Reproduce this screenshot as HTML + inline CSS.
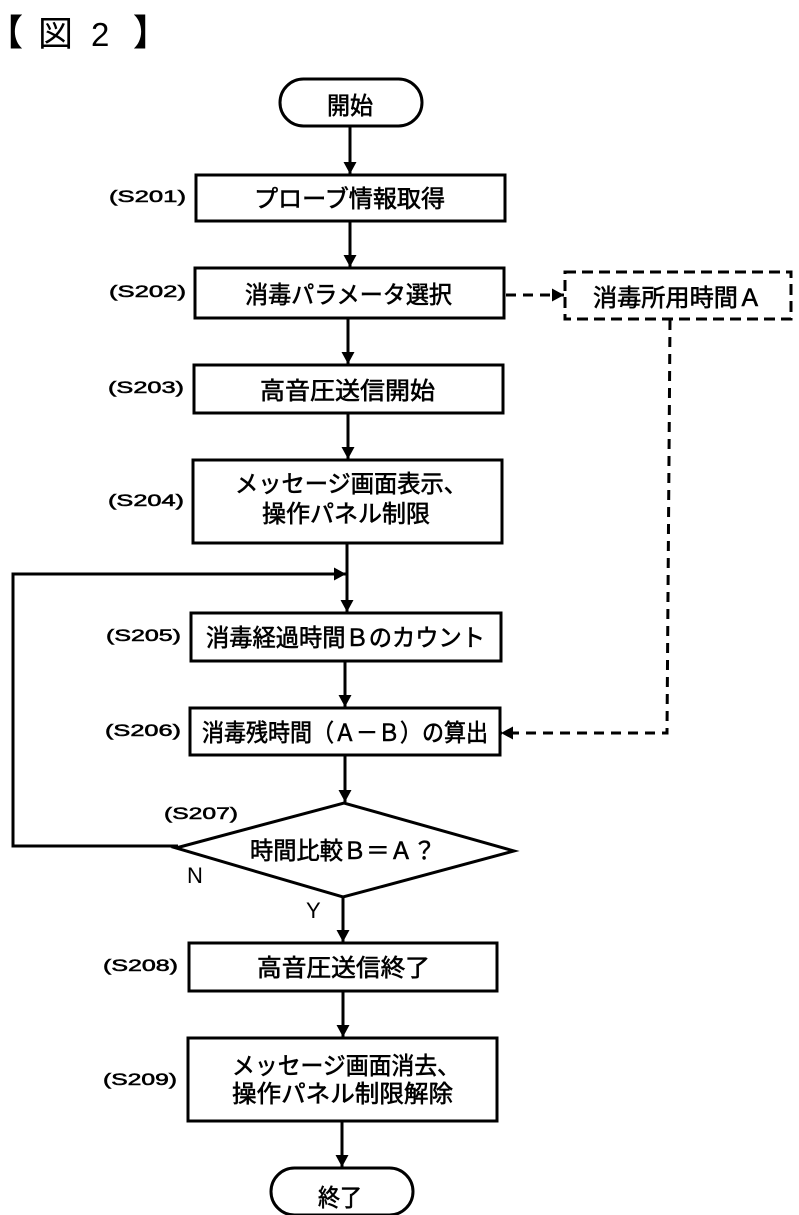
<!DOCTYPE html>
<html lang="ja"><head><meta charset="utf-8"><title>図2</title>
<style>
html,body{margin:0;padding:0;background:#fff}
svg{display:block}
text{font-family:"Liberation Sans","Noto Sans CJK JP",sans-serif;fill:#000}
.t{font-size:24px;stroke:#000;stroke-width:.6px}
.s{font-size:17px;stroke:#000;stroke-width:.55px}
</style></head><body>
<svg width="799" height="1215" viewBox="0 0 799 1215" xmlns="http://www.w3.org/2000/svg">
<defs>
<marker id="a" markerWidth="14" markerHeight="14" refX="12" refY="6.5" orient="auto" markerUnits="userSpaceOnUse"><path d="M0 0L12 6.5L0 13Z" fill="#000"/></marker>
</defs>
<text x="-13" y="45" style="font-size:36px;font-weight:700">【</text>
<text x="38" y="46" style="font-size:35px">図</text>
<text x="91" y="46" style="font-size:33px">2</text>
<text x="133" y="45" style="font-size:36px;font-weight:700">】</text>

<g fill="#fff" stroke="#000" stroke-width="3">
<rect x="280" y="79" width="142" height="47" rx="23.5"/>
<rect x="196" y="175" width="309" height="46"/>
<rect x="195" y="268" width="309" height="50"/>
<rect x="194" y="365" width="309" height="48"/>
<rect x="193" y="460" width="309" height="83"/>
<rect x="191" y="613" width="310" height="48"/>
<rect x="190" y="708" width="310" height="47"/>
<path d="M176 848L344 803L514 851L343 897Z"/>
<rect x="189" y="943" width="308" height="48"/>
<rect x="188" y="1038" width="309" height="83"/>
<rect x="271" y="1168" width="142" height="47" rx="23.5"/>
</g>
<rect x="565" y="272" width="226" height="47" fill="#fff" stroke="#000" stroke-width="3" stroke-dasharray="11 6"/>

<g fill="none" stroke="#000" stroke-width="3">
<path d="M350 126V174" marker-end="url(#a)"/>
<path d="M350 221V267" marker-end="url(#a)"/>
<path d="M348 318V364" marker-end="url(#a)"/>
<path d="M348 413V459" marker-end="url(#a)"/>
<path d="M347 543V612" marker-end="url(#a)"/>
<path d="M345 661V707" marker-end="url(#a)"/>
<path d="M345 755V802" marker-end="url(#a)"/>
<path d="M343 897V942" marker-end="url(#a)"/>
<path d="M343 991V1037" marker-end="url(#a)"/>
<path d="M342 1121V1167" marker-end="url(#a)"/>
<path d="M178 846H13V574H346" marker-end="url(#a)"/>
</g>
<g fill="none" stroke="#000" stroke-width="3" stroke-dasharray="10 7">
<path d="M506 295H564" marker-end="url(#a)"/>
<path d="M670 320L667 733H501" marker-end="url(#a)"/>
</g>

<g>
<text class="t" x="327" y="114" textLength="46" lengthAdjust="spacingAndGlyphs">開始</text>
<text class="t" x="254" y="207" textLength="191" lengthAdjust="spacingAndGlyphs">プローブ情報取得</text>
<text class="t" x="245" y="303" textLength="207" lengthAdjust="spacingAndGlyphs">消毒パラメータ選択</text>
<text class="t" x="260" y="399" textLength="175" lengthAdjust="spacingAndGlyphs">高音圧送信開始</text>
<text class="t" x="235" y="492" textLength="232" lengthAdjust="spacingAndGlyphs">メッセージ画面表示、</text>
<text class="t" x="262" y="522" textLength="168" lengthAdjust="spacingAndGlyphs">操作パネル制限</text>
<text class="t" x="206" y="646" textLength="279" lengthAdjust="spacingAndGlyphs">消毒経過時間Ｂのカウント</text>
<text class="t" x="202" y="741" textLength="286" lengthAdjust="spacingAndGlyphs">消毒残時間（Ａ－Ｂ）の算出</text>
<text class="t" x="250" y="859" textLength="186" lengthAdjust="spacingAndGlyphs">時間比較Ｂ＝Ａ？</text>
<text class="t" x="257" y="976" textLength="173" lengthAdjust="spacingAndGlyphs">高音圧送信終了</text>
<text class="t" x="232" y="1074" textLength="228" lengthAdjust="spacingAndGlyphs">メッセージ画面消去、</text>
<text class="t" x="232" y="1102" textLength="221" lengthAdjust="spacingAndGlyphs">操作パネル制限解除</text>
<text class="t" x="318" y="1206" textLength="44" lengthAdjust="spacingAndGlyphs">終了</text>
<text class="t" x="593" y="306" textLength="169" lengthAdjust="spacingAndGlyphs">消毒所用時間Ａ</text>
</g>

<text class="s" x="109" y="202" textLength="77" lengthAdjust="spacingAndGlyphs">(S201)</text>
<text class="s" x="109" y="297" textLength="77" lengthAdjust="spacingAndGlyphs">(S202)</text>
<text class="s" x="108" y="393" textLength="76" lengthAdjust="spacingAndGlyphs">(S203)</text>
<text class="s" x="108" y="506" textLength="76" lengthAdjust="spacingAndGlyphs">(S204)</text>
<text class="s" x="106" y="641" textLength="75" lengthAdjust="spacingAndGlyphs">(S205)</text>
<text class="s" x="105" y="736" textLength="76" lengthAdjust="spacingAndGlyphs">(S206)</text>
<text class="s" x="164" y="819" textLength="74" lengthAdjust="spacingAndGlyphs">(S207)</text>
<text class="s" x="103" y="971" textLength="75" lengthAdjust="spacingAndGlyphs">(S208)</text>
<text class="s" x="103" y="1085" textLength="74" lengthAdjust="spacingAndGlyphs">(S209)</text>
<text x="187" y="883" style="font-size:22px">N</text>
<text x="306" y="918" style="font-size:22px">Y</text>
</svg>
</body></html>
